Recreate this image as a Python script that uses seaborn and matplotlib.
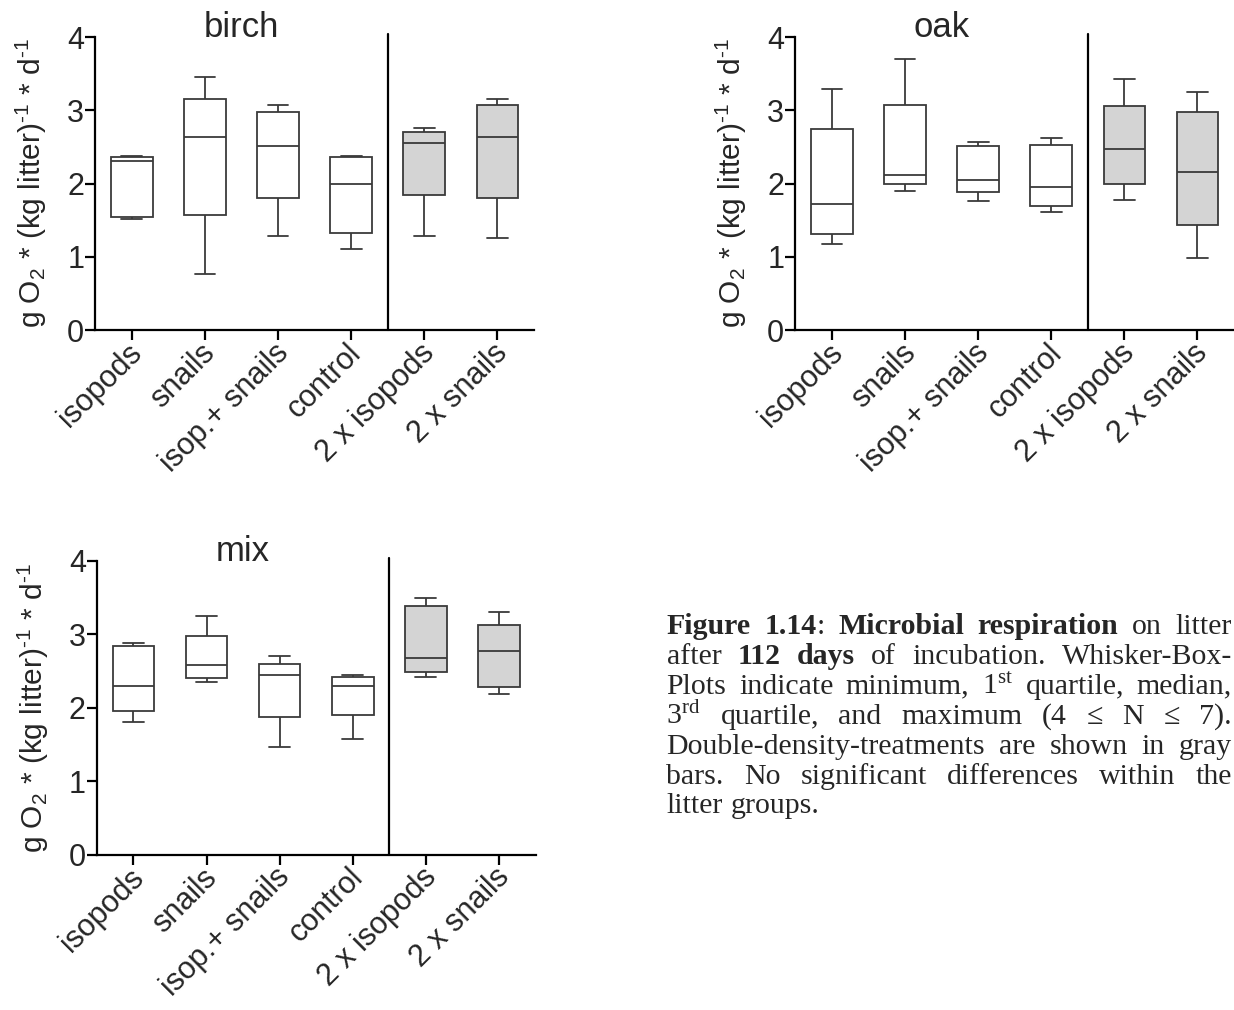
import pandas as pd
import matplotlib
matplotlib.use("Agg")
import matplotlib.pyplot as plt
import matplotlib.transforms as mtransforms
import seaborn as sns

# treatments on the x axis
groups = ["isopods", "snails", "isop.+ snails", "control", "2 x isopods", "2 x snails"]
box_colors = ["white", "white", "white", "white", "#d4d4d4", "#d4d4d4"]

# min, 1st quartile, median, 3rd quartile, max
birch = [
    [1.52, 1.54, 2.31, 2.36, 2.38],
    [0.77, 1.57, 2.64, 3.15, 3.46],
    [1.28, 1.81, 2.52, 2.98, 3.08],
    [1.11, 1.32, 1.99, 2.36, 2.38],
    [1.29, 1.84, 2.56, 2.70, 2.76],
    [1.26, 1.80, 2.64, 3.07, 3.15],
]
oak = [
    [1.17, 1.31, 1.72, 2.75, 3.30],
    [1.90, 2.00, 2.12, 3.07, 3.71],
    [1.76, 1.88, 2.05, 2.52, 2.57],
    [1.61, 1.70, 1.95, 2.53, 2.63],
    [1.78, 2.00, 2.47, 3.06, 3.43],
    [0.99, 1.44, 2.16, 2.98, 3.25],
]
mix = [
    [1.80, 1.95, 2.30, 2.84, 2.88],
    [2.35, 2.40, 2.58, 2.98, 3.25],
    [1.47, 1.88, 2.44, 2.60, 2.70],
    [1.57, 1.90, 2.30, 2.42, 2.44],
    [2.42, 2.49, 2.68, 3.39, 3.49],
    [2.19, 2.28, 2.78, 3.13, 3.31],
]

ylabel = "g O$_2$ * (kg litter)$^{\u2010 1}$ * d$^{\u2010 1}$"

caption_lines = [
    "**Figure** **1.14**: **Microbial** **respiration** on litter",
    "after **112** **days** of incubation. Whisker-Box-",
    "Plots indicate minimum, 1$^{st}$ quartile, median,",
    "3$^{rd}$ quartile, and maximum (4 \u2264 N \u2264 7).",
    "Double-density-treatments are shown in gray",
    "bars. No significant differences within the",
    "litter groups.",
]

sns.set_style("ticks")
plt.rcParams["font.family"] = ["Liberation Sans", "DejaVu Sans"]
plt.rcParams["mathtext.default"] = "regular"

W, H = 1234, 1010
fig = plt.figure(figsize=(W / 100, H / 100), dpi=100)

panels = [
    ("birch", birch, [95.3, 37.3, 438.6, 292.7]),
    ("oak", oak, [795.4, 37.3, 438.6, 292.7]),
    ("mix", mix, [96.9, 561.0, 438.6, 293.5]),
]

shift = mtransforms.ScaledTranslation(6 / 100, -6 / 100, fig.dpi_scale_trans)

for name, stats, (x0, y0, w, h) in panels:
    ax = fig.add_axes([x0 / W, 1 - (y0 + h) / H, w / W, h / H])
    df = pd.DataFrame(
        [(g, v) for g, vals in zip(groups, stats) for v in vals],
        columns=["group", "value"],
    )
    sns.boxplot(data=df, x="group", y="value", hue="group", order=groups,
                hue_order=groups, palette=box_colors, legend=False,
                whis=(0, 100), width=0.57, saturation=1,
                linecolor="#3a3a3a", linewidth=1.3, ax=ax)
    ax.set_xlim(-0.5, 5.5)
    ax.set_ylim(0, 4)
    ax.set_yticks([0, 1, 2, 3, 4])
    ax.set_xlabel("")
    ax.set_ylabel(ylabel, fontsize=21.5)
    ax.yaxis.set_label_coords(-0.105, 0.5)
    ax.tick_params(axis="both", labelsize=22, length=7, width=1.6,
                   color="black", direction="out")
    ax.tick_params(axis="y", pad=1)
    ax.tick_params(axis="x", pad=2)
    for lbl in ax.get_xticklabels():
        lbl.set_rotation(45)
        lbl.set_ha("right")
        lbl.set_va("center")
        lbl.set_rotation_mode("anchor")
        lbl.set_transform(lbl.get_transform() + shift)
    sns.despine(ax=ax)
    for s in ["left", "bottom"]:
        ax.spines[s].set_linewidth(1.6)
        ax.spines[s].set_color("black")
    ax.axvline(3.5, ymin=0, ymax=1.01, color="black", lw=1.6, clip_on=False)
    ax.text(1.5, 4.0, name, ha="center", va="baseline", fontsize=25)

# justified caption
fig.canvas.draw()
renderer = fig.canvas.get_renderer()
left, right = 666.5, 1232.0
base0, step = 634.0, 29.9
serif = ["Liberation Serif", "DejaVu Serif"]
cap_size = 21.5
space_w = None
for i, line in enumerate(caption_lines):
    y = 1 - (base0 + i * step) / H
    words = []
    for word in line.split(" "):
        parts = word.split("**")
        segs = []
        for k, p in enumerate(parts):
            if p == "":
                continue
            t = fig.text(0, y, p, fontsize=cap_size, family=serif,
                         weight="bold" if k % 2 else "normal", va="baseline")
            segs.append((t, t.get_window_extent(renderer).width))
        words.append(segs)
    if space_w is None:
        sp = fig.text(0, y, "a a", fontsize=cap_size, family=serif)
        aa = fig.text(0, y, "aa", fontsize=cap_size, family=serif)
        space_w = sp.get_window_extent(renderer).width - aa.get_window_extent(renderer).width
        sp.remove()
        aa.remove()
    total = sum(wd for segs in words for _, wd in segs)
    if i < len(caption_lines) - 1:
        gap = (right - left - total) / (len(words) - 1)
    else:
        gap = space_w
    x = left
    for segs in words:
        for t, wd in segs:
            t.set_x(x / W)
            x += wd
        x += gap

fig.savefig("out.png", dpi=100)
